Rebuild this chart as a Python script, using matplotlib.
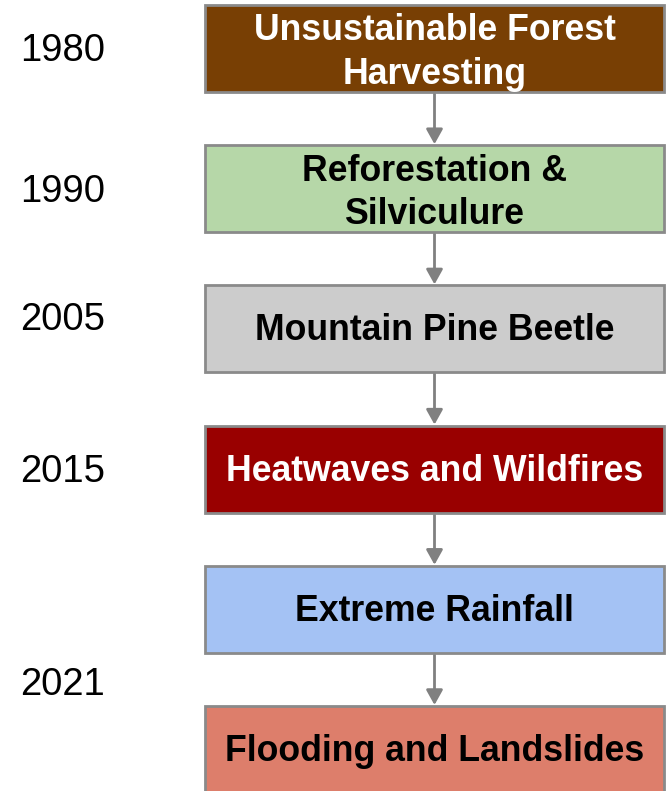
import matplotlib
matplotlib.use("Agg")
import matplotlib.pyplot as plt
from matplotlib.patches import Rectangle, FancyArrowPatch

# ---- data ----
labels = ["Unsustainable Forest\nHarvesting", "Reforestation &\nSilviculure",
          "Mountain Pine Beetle", "Heatwaves and Wildfires",
          "Extreme Rainfall", "Flooding and Landslides"]
box_colors = ["#783F04", "#B6D7A8", "#CCCCCC", "#990000", "#A4C2F4", "#DD7E6B"]
text_colors = ["white", "black", "black", "white", "black", "black"]
years = ["1980", "1990", "2005", "2015", "2021"]
year_y = [49, 190, 318, 470, 683]

# ---- layout ----
W, H = 668, 791
fig = plt.figure(figsize=(W / 100, H / 100), dpi=100)
ax = fig.add_axes([0, 0, 1, 1])
ax.set_xlim(0, W)
ax.set_ylim(H, 0)
ax.axis("off")

box_left, box_right = 205, 664
box_top0, box_h, step = 5, 87, 140.2
cx = (box_left + box_right) / 2
font = "Liberation Sans"

for i, (lab, fc, tc) in enumerate(zip(labels, box_colors, text_colors)):
    top = box_top0 + i * step
    ax.add_patch(Rectangle((box_left, top), box_right - box_left, box_h,
                           facecolor=fc, edgecolor="#8a8a8a", linewidth=2, zorder=2))
    dy = 4 if "\n" in lab else 2
    ax.text(cx, top + box_h / 2 + dy, lab, ha="center", va="center", color=tc,
            fontsize=25.7, fontweight="bold", family=font, linespacing=1.3, zorder=3)
    if i < len(labels) - 1:
        ax.add_patch(FancyArrowPatch((cx, top + box_h + 1), (cx, top + step - 1),
                                     arrowstyle="-|>,head_length=0.9,head_width=0.5",
                                     mutation_scale=10, color="#808080", linewidth=2,
                                     shrinkA=0, shrinkB=0, zorder=1))

for yr, yy in zip(years, year_y):
    ax.text(63, yy + 2, yr, ha="center", va="center", fontsize=27.5, family=font, color="black")

fig.savefig("out.png", dpi=100)
